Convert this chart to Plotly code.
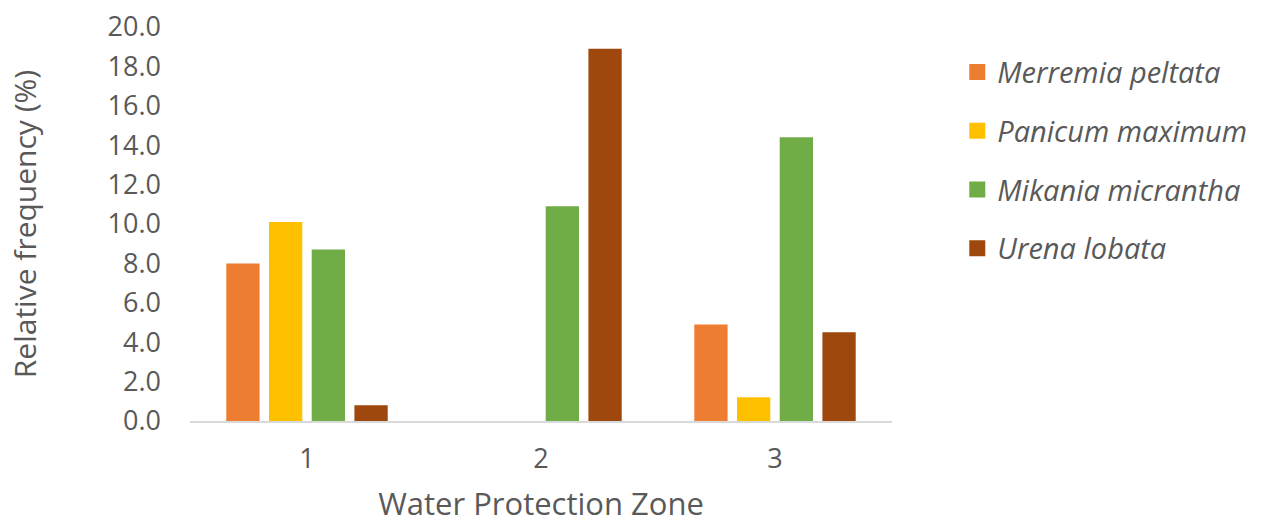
import plotly.graph_objects as go

# Relative frequency (%) of four invasive species across three water protection zones
zones = ["1", "2", "3"]
species = ["Merremia peltata", "Panicum maximum", "Mikania micrantha", "Urena lobata"]
merremia = [8.0, 0.0, 4.9]
panicum = [10.1, 0.0, 1.2]
mikania = [8.7, 10.9, 14.4]
urena = [0.8, 18.9, 4.5]
y_ticks = [0, 2, 4, 6, 8, 10, 12, 14, 16, 18, 20]

colors = ["#ED7D31", "#FFC000", "#70AD47", "#9E480E"]
series = [merremia, panicum, mikania, urena]

FONT = "Open Sans"
GREY = "#595959"

fig = go.Figure()
for name, vals, col in zip(species, series, colors):
    fig.add_trace(go.Bar(
        x=zones, y=vals, name=name, marker=dict(color=col, line=dict(width=0)),
        showlegend=False,
    ))
    # square legend swatches
    fig.add_trace(go.Scatter(
        x=[None], y=[None], mode="markers", name=name, legendgroup=name,
        marker=dict(symbol="square", size=18, color=col),
        showlegend=True,
    ))

fig.update_layout(
    width=1263, height=524,
    margin=dict(l=190, r=371, t=27, b=103, autoexpand=False),
    paper_bgcolor="white", plot_bgcolor="white",
    barmode="group", bargap=0.27, bargroupgap=0.22,
    font=dict(family=FONT, color=GREY),
    legend=dict(
        x=1.093, y=0.95, xanchor="left", yanchor="top",
        font=dict(family=FONT, size=29, color=GREY, style="italic"),
        tracegroupgap=18, itemwidth=30,
    ),
    xaxis=dict(
        type="category", showgrid=False, showline=True, linecolor="#D9D9D9", linewidth=2,
        ticks="", tickfont=dict(size=27, color=GREY), ticklabelstandoff=13, automargin=True,
        title=dict(text="Water Protection Zone", font=dict(size=31, color=GREY), standoff=23),
    ),
    yaxis=dict(
        range=[0, 20], tickvals=y_ticks, tickformat=".1f", showgrid=False, showline=False,
        zeroline=False, ticks="", tickfont=dict(size=27, color=GREY), ticklabelstandoff=28,
        automargin=False,
        title=dict(text="Relative frequency (%)", font=dict(size=30, color=GREY), standoff=62),
    ),
)

fig.write_html("out.html")
